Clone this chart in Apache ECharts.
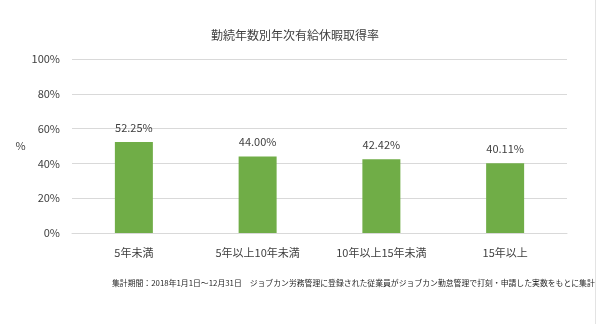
<!DOCTYPE html>
<html>
<head>
<meta charset="utf-8">
<script src="https://cdn.jsdelivr.net/npm/echarts@6/dist/echarts.min.js"></script>
<style>
html,body{margin:0;padding:0;background:#fff;}
#wrap{position:relative;width:600px;height:324px;}
#chart{width:600px;height:324px;}
#edge{position:absolute;left:595px;top:0;width:1px;height:324px;background:#e3e3e3;}
</style>
</head>
<body>
<div id="wrap"><div id="chart"></div><div id="edge"></div></div>
<script>
const titleText = '勤続年数別年次有給休暇取得率';
const footerText = '集計期間：2018年1月1日～12月31日　ジョブカン労務管理に登録された従業員がジョブカン勤怠管理で打刻・申請した実数をもとに集計';
const categories = ['5年未満', '5年以上10年未満', '10年以上15年未満', '15年以上'];
const rates = [52.25, 44.00, 42.42, 40.11];
const yTicks = [0, 20, 40, 60, 80, 100];

const FONT = '"Noto Sans CJK JP", "Noto Sans", sans-serif';
const chart = echarts.init(document.getElementById('chart'), null, {renderer: 'canvas'});
chart.setOption({
  backgroundColor: '#ffffff',
  animation: false,
  textStyle: {fontFamily: FONT},
  title: [
    {text: titleText, left: 290, top: 24, textAlign: 'center',
     textStyle: {fontSize: 12, fontWeight: 'normal', color: '#404040', fontFamily: FONT}},
    {text: footerText, left: 107, top: 274,
     textStyle: {fontSize: 7.85, fontWeight: 'normal', color: '#262626', fontFamily: FONT}}
  ],
  grid: {left: 72, right: 33, top: 59, bottom: 91, containLabel: false},
  xAxis: {
    type: 'category',
    data: categories,
    axisLine: {show: true, lineStyle: {color: '#d9d9d9', width: 1}},
    axisTick: {show: false},
    axisLabel: {fontSize: 11, color: '#404040', margin: 14, fontFamily: FONT}
  },
  yAxis: {
    type: 'value',
    min: yTicks[0], max: yTicks[yTicks.length - 1], interval: 20,
    name: '%', nameLocation: 'middle', nameRotate: 0, nameGap: 46,
    nameTextStyle: {fontSize: 11, color: '#404040', fontFamily: FONT},
    axisLine: {show: false},
    axisTick: {show: false},
    splitLine: {lineStyle: {color: '#d9d9d9', width: 1}},
    axisLabel: {fontSize: 11, color: '#404040', margin: 12, fontFamily: FONT,
      formatter: v => v + '%'}
  },
  series: [{
    type: 'bar',
    data: rates,
    barWidth: 38,
    itemStyle: {color: '#70ad47'},
    label: {show: true, position: 'top', distance: 9, fontSize: 11, color: '#404040',
      fontFamily: FONT, formatter: p => p.value.toFixed(2) + '%'}
  }]
});
</script>
</body>
</html>
